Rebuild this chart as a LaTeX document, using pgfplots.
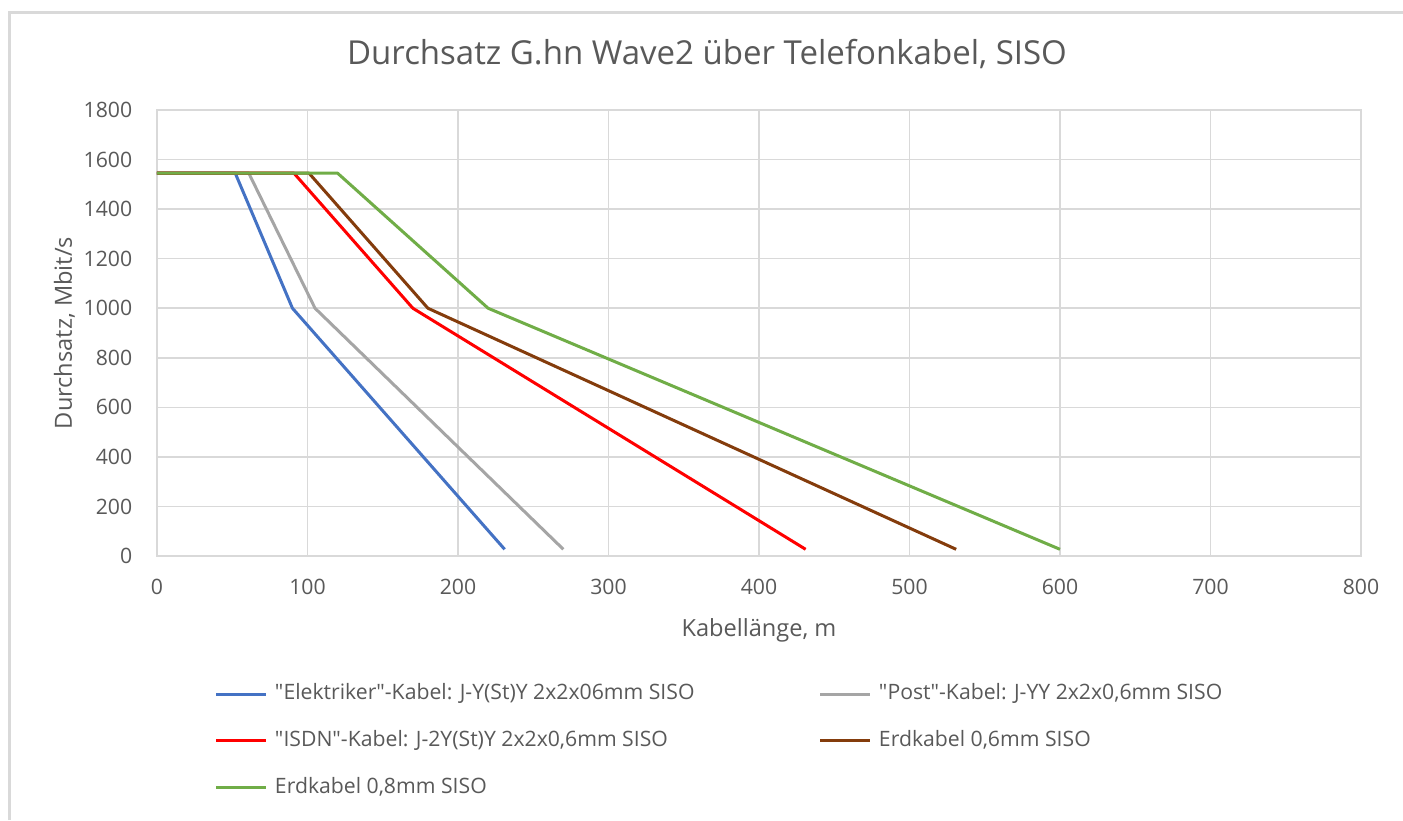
\documentclass[border=0pt]{standalone}
\usepackage{fontspec}
\setmainfont{Open Sans}
\usepackage{pgfplots}
\pgfplotsset{compat=1.18}
\definecolor{txt}{HTML}{595959}
\definecolor{gridc}{HTML}{D9D9D9}
\definecolor{cblue}{HTML}{4472C4}
\definecolor{cgray}{HTML}{A5A5A5}
\definecolor{cred}{HTML}{FF0000}
\definecolor{cbrown}{HTML}{843C0C}
\definecolor{cgreen}{HTML}{70AD47}
\begin{document}
\begin{tikzpicture}
\useasboundingbox (-78.5pt,-132pt) rectangle (623pt,278pt);
\fill[white] (-78.5pt,-132pt) rectangle (623pt,278pt);
\draw[gridc, line width=1.5pt] (-73.75pt,-132pt) -- (-73.75pt,271.5pt) -- (623pt,271.5pt);
\begin{axis}[
 at={(0,0)}, anchor=south west,
 scale only axis, width=602pt, height=223pt,
 xmin=0, xmax=800, ymin=0, ymax=1800,
 xtick={0,100,...,800}, ytick={0,200,...,1800},
 grid=major, major grid style={draw=gridc, line width=0.75pt},
 axis line style={draw=gridc, line width=0.75pt},
 tick style={draw=none},
 /pgf/number format/1000 sep={},
 /pgf/number format/assume math mode=true,
 ticklabel style={font=\fontsize{10.6}{12}\selectfont, text=txt},
 xticklabel style={anchor=base, yshift=-19pt},
 yticklabel style={anchor=east, inner xsep=0pt, xshift=-12.2pt},
 xlabel={Kabellänge, m}, ylabel={Durchsatz, Mbit/s},
 label style={font=\fontsize{11.8}{14}\selectfont, text=txt},
 xlabel style={at={(axis description cs:0.5,-0.1816)}, anchor=base},
 ylabel style={at={(axis description cs:-0.0706,0.5)}, anchor=base},
 legend columns=2,
 legend cell align=left,
 legend style={draw=none, fill=none, at={(rel axis cs:0,0)}, anchor=north west, xshift=29pt, yshift=-63.75pt, inner sep=0pt, outer sep=0pt, column sep=0pt, row sep=12.9pt, font=\fontsize{10.6}{12}\selectfont, text=txt, nodes={inner sep=0pt, text height=8pt, text depth=2.5pt}},
 legend image code/.code={\draw[#1] (0pt,0pt) -- (25pt,0pt); \path (28.5pt,0pt);},
 every axis plot/.append style={line width=1.5pt, line join=round},
]
\addplot[cblue] coordinates {(0,1545) (52,1545) (90,1000) (231,27)};
\addlegendentry{\makebox[272pt][l]{\textquotedbl Elektriker\textquotedbl-Kabel: J-Y(St)Y 2x2x06mm SISO}}
\addplot[cgray] coordinates {(0,1545) (61,1545) (105,1000) (270,27)};
\addlegendentry{\textquotedbl Post\textquotedbl-Kabel: J-YY 2x2x0,6mm SISO}
\addplot[cred] coordinates {(0,1545) (91,1545) (170,1000) (431,27)};
\addlegendentry{\makebox[272pt][l]{\textquotedbl ISDN\textquotedbl-Kabel: J-2Y(St)Y 2x2x0,6mm SISO}}
\addplot[cbrown] coordinates {(0,1545) (101,1545) (180,1000) (531,27)};
\addlegendentry{Erdkabel 0,6mm SISO}
\addplot[cgreen] coordinates {(0,1545) (120,1545) (220,1000) (600,27)};
\addlegendentry{\makebox[272pt][l]{Erdkabel 0,8mm SISO}}
\end{axis}
\node[anchor=base, font=\fontsize{16.5}{20}\selectfont, text=txt] at (275pt,245.5pt) {Durchsatz G.hn Wave2 über Telefonkabel, SISO};
\end{tikzpicture}
\end{document}
